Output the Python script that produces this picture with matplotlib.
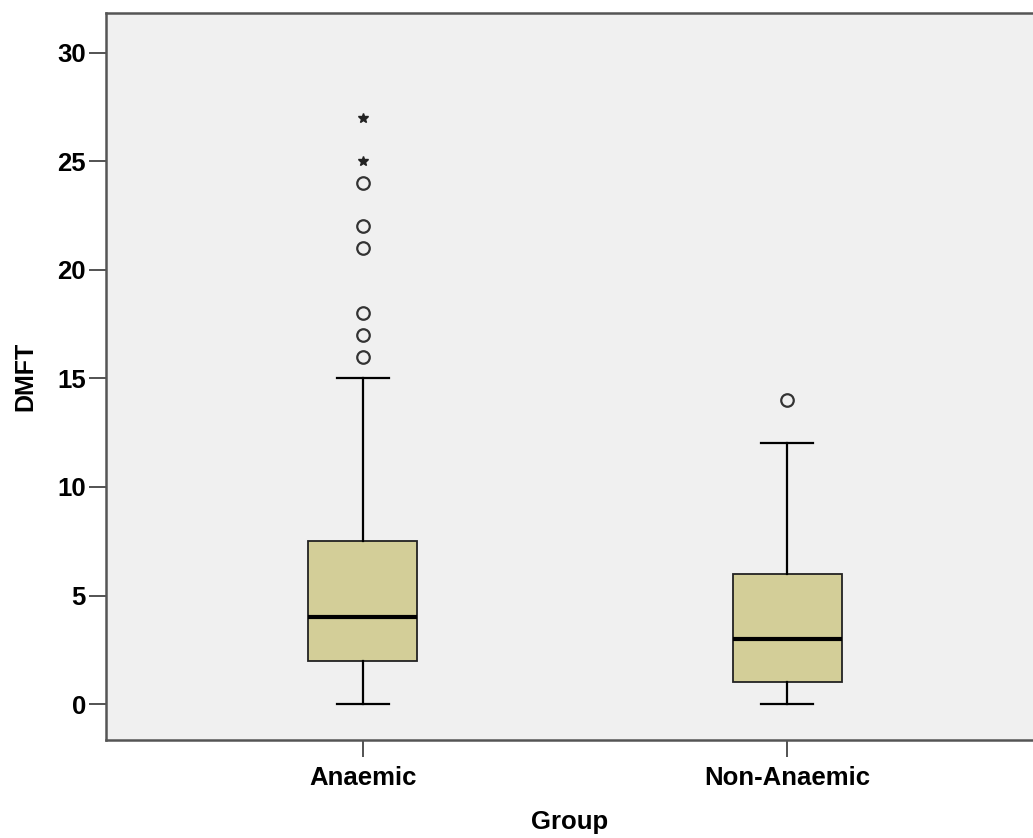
import matplotlib
matplotlib.use('Agg')
import matplotlib.pyplot as plt

plt.rcParams['font.family'] = ['Liberation Sans', 'DejaVu Sans']

#-------------------------------------------------------------------------------
#DATA

groups = ['Anaemic', 'Non-Anaemic']
whislo = [0, 0]
q1 = [2, 1]
med = [4, 3]
q3 = [7.5, 6]
whishi = [15, 12]
#outliers (circles) and extremes (stars)
outliers = [[16, 17, 18, 21, 22, 24], [14]]
extremes = [[25, 27], []]
yticks = [0, 5, 10, 15, 20, 25, 30]

#-------------------------------------------------------------------------------
#MAIN

pos = [1, 2]
stats = []
for i in range(len(groups)):
    stats.append(dict(whislo=whislo[i], q1=q1[i], med=med[i], q3=q3[i],
                      whishi=whishi[i], fliers=[], label=groups[i]))

fig = plt.figure(figsize=(10.33, 8.38), dpi=100)
ax = fig.add_axes([0.1026, 0.117, 0.8974, 0.867])
ax.set_facecolor('#f0f0f0')

ax.bxp(stats, positions=pos, widths=0.257, patch_artist=True, showfliers=False,
       boxprops=dict(facecolor='#d3ce98', edgecolor='#222222', linewidth=1.3),
       medianprops=dict(color='black', linewidth=3),
       whiskerprops=dict(color='black', linewidth=1.6),
       capprops=dict(color='black', linewidth=1.6),
       capwidths=0.123)

for p, o, e in zip(pos, outliers, extremes):
    ax.plot([p]*len(o), o, 'o', mfc='none', mec='#333333', mew=1.6, ms=9)
    ax.plot([p]*len(e), e, '*', color='#222222', ms=7)

ax.set_xlim(0.394, 2.58)
ax.set_ylim(-1.65, 31.8)
ax.set_yticks(yticks)
ax.set_xticks(pos)
ax.set_xticklabels(groups)

for s in ['left', 'bottom', 'top']:
    ax.spines[s].set_color('#555555')
    ax.spines[s].set_linewidth(1.8)
ax.spines['right'].set_visible(False)

ax.tick_params(axis='both', length=12.5, width=1.3, color='#444444',
               labelsize=18.5, pad=2)
ax.tick_params(axis='x', pad=6)
for lab in ax.get_xticklabels() + ax.get_yticklabels():
    lab.set_fontweight('bold')

ax.set_xlabel('Group', fontsize=18.5, fontweight='bold', labelpad=15)
ax.set_ylabel('DMFT', fontsize=18, fontweight='bold', labelpad=14)

fig.savefig('out.png', dpi=100, facecolor='white')
